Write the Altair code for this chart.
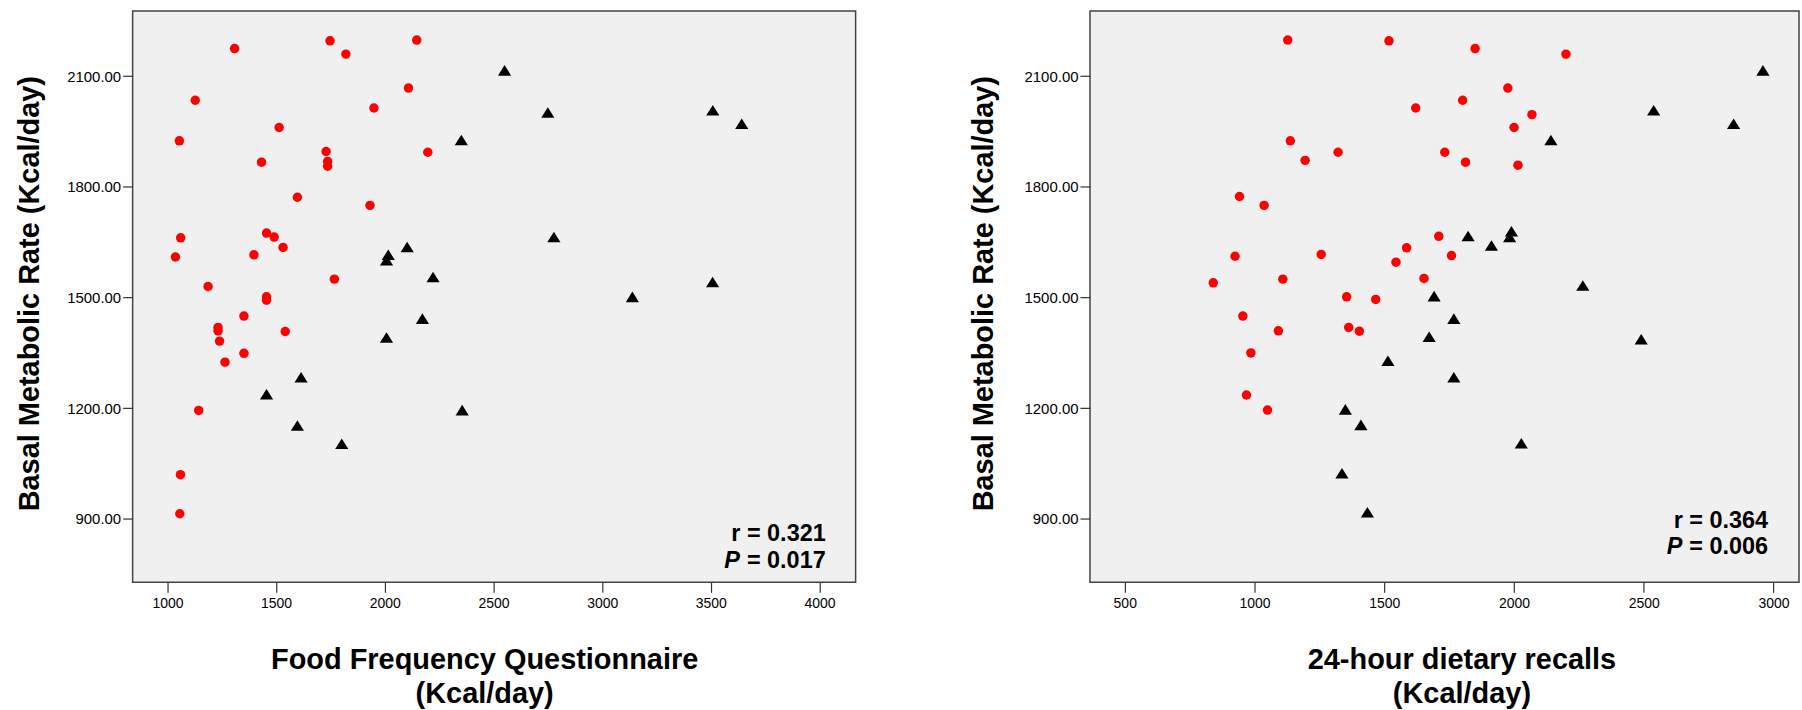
import altair as alt
import pandas as pd

FONT = "Liberation Sans, Arial, Helvetica, sans-serif"

# ---- Left panel: Food Frequency Questionnaire ----
ffq_red_x = [1309, 1748, 1821, 2147, 1128, 2109, 1950, 1514, 1055, 2198, 1730, 1737, 1737, 1433, 1598,
             1932, 1061, 1456, 1491, 1532, 1037, 1398, 1768, 1187, 1456, 1456, 1352, 1233, 1233, 1542,
             1240, 1352, 1265, 1144, 1060, 1057]
ffq_red_y = [2175, 2196, 2160, 2198, 2035, 2068, 2014, 1961, 1925, 1894, 1896, 1869, 1856, 1867, 1772,
             1750, 1662, 1675, 1664, 1636, 1610, 1616, 1550, 1530, 1502, 1493, 1450, 1419, 1410, 1408,
             1382, 1349, 1325, 1194, 1020, 914]
ffq_tri_x = [2352, 2103, 2016, 2008, 2222, 2173, 2008, 1615, 1456, 2356, 1598, 1802, 2551, 2750, 3509,
             3642, 2778, 3508, 3139]
ffq_tri_y = [1927, 1637, 1616, 1601, 1556, 1443, 1392, 1284, 1238, 1195, 1153, 1104, 2116, 2002, 2008,
             1971, 1664, 1542, 1502]

# ---- Right panel: 24-hour dietary recalls ----
rec_red_x = [1128, 1518, 1621, 1138, 1195, 1322, 1733, 942, 1037, 1710, 1586, 925, 1257, 1545, 1759,
             841, 1109, 1653, 1355, 1467, 955, 1092, 1363, 1404, 986, 969, 1050, 1850, 2200, 1976,
             1802, 2069, 2000, 1813, 2015]
rec_red_y = [2198, 2196, 2014, 1925, 1872, 1894, 1894, 1774, 1750, 1666, 1635, 1612, 1617, 1596, 1614,
             1540, 1550, 1552, 1502, 1495, 1450, 1410, 1419, 1409, 1350, 1236, 1195, 2175, 2160, 2068,
             2035, 1996, 1961, 1867, 1859]
rec_tri_x = [1692, 1673, 1514, 1350, 1410, 1337, 1435, 2265, 1768, 2490, 1768, 2028, 2959, 2538, 2846,
             2142, 1823, 1913, 1990, 1983]
rec_tri_y = [1504, 1394, 1329, 1197, 1155, 1024, 918, 1533, 1443, 1387, 1284, 1105, 2116, 2008, 1971,
             1927, 1667, 1641, 1680, 1664]

y_ticks = [900, 1200, 1500, 1800, 2100]
y_domain = [728, 2277]
ffq_ticks = [1000, 1500, 2000, 2500, 3000, 3500, 4000]
ffq_domain = [840, 4166]
rec_ticks = [500, 1000, 1500, 2000, 2500, 3000]
rec_domain = [366, 3098]

y_title = "Basal Metabolic Rate (Kcal/day)"
ffq_title = ["Food Frequency Questionnaire", "(Kcal/day)"]
rec_title = ["24-hour dietary recalls", "(Kcal/day)"]

ffq_stats = ["r = 0.321", "P", " = 0.017"]
rec_stats = ["r = 0.364", "P", " = 0.006"]

TRI = "M-1,0.8L1,0.8L0,-0.8Z"
H = 573


def panel(rx, ry, tx, ty, xdom, xticks, xtitle, xtitle_x, ytitle_x, width, stats, ann_x, ann_y):
    red = pd.DataFrame({"x": rx, "y": ry})
    tri = pd.DataFrame({"x": tx, "y": ty})
    xs = alt.Scale(domain=xdom, nice=False, zero=False)
    ys = alt.Scale(domain=y_domain, nice=False, zero=False)
    xax = alt.Axis(values=xticks, format="d", title=xtitle, titleX=xtitle_x)
    yax = alt.Axis(values=y_ticks, format=".2f", title=y_title, titleX=ytitle_x, titleY=283)

    pts_red = alt.Chart(red).mark_point(shape="circle", filled=True, color="#ff0000",
                                        size=90, opacity=1).encode(
        x=alt.X("x:Q", scale=xs, axis=xax),
        y=alt.Y("y:Q", scale=ys, axis=yax),
    )
    pts_tri = alt.Chart(tri).mark_point(shape=TRI, filled=True, color="#000000",
                                        size=175, opacity=1).encode(
        x=alt.X("x:Q", scale=xs),
        y=alt.Y("y:Q", scale=ys),
    )
    ann = pd.DataFrame({"r": [stats[0]], "p": [stats[1]], "v": [stats[2]]})
    base_txt = dict(font=FONT, fontSize=23.5, fontWeight="bold", color="black",
                    align="right", baseline="alphabetic")
    t1 = alt.Chart(ann).mark_text(**base_txt).encode(
        x=alt.value(ann_x), y=alt.value(ann_y), text="r:N")
    t2 = alt.Chart(ann).mark_text(**base_txt).encode(
        x=alt.value(ann_x), y=alt.value(ann_y + 27), text="v:N")
    t3 = alt.Chart(ann).mark_text(**base_txt, fontStyle="italic").encode(
        x=alt.value(ann_x - 86), y=alt.value(ann_y + 27), text="p:N")
    return alt.layer(pts_red, pts_tri, t1, t2, t3).properties(width=width, height=H)


left = panel(ffq_red_x, ffq_red_y, ffq_tri_x, ffq_tri_y, ffq_domain, ffq_ticks, ffq_title,
             352.5, -88.5, 725, ffq_stats, 695, 532)
right = panel(rec_red_x, rec_red_y, rec_tri_x, rec_tri_y, rec_domain, rec_ticks, rec_title,
              372.5, -91.5, 711, rec_stats, 680, 518)

chart = alt.hconcat(left, right, spacing=112).properties(
    padding={"left": 14, "top": 9, "right": 2, "bottom": 2},
    background="white",
).configure_view(
    fill="#f0f0f0", stroke="#444444", strokeWidth=1.5
).configure_axis(
    domain=False, grid=False, tickSize=10, tickColor="#333333", tickWidth=1.2,
    labelFont=FONT, labelColor="black", titleFont=FONT, titleFontWeight="bold",
    titleColor="black", titleFontSize=29,
).configure_axisX(
    labelFontSize=14, labelPadding=4, titlePadding=35, titleLineHeight=34,
).configure_axisY(
    labelFontSize=15, labelPadding=2,
)

chart.save("out.html", embed_options={"renderer": "svg", "actions": False})
